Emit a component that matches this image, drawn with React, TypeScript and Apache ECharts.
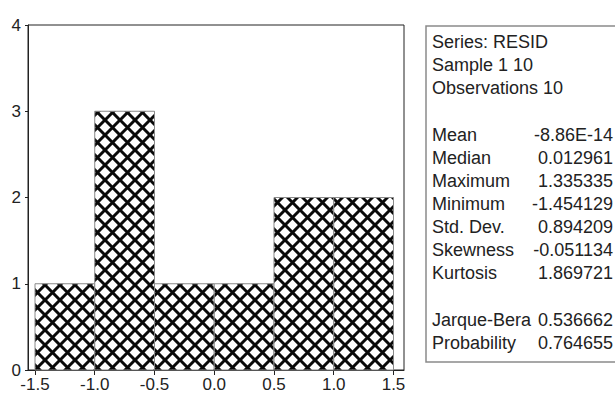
import React, { useEffect, useRef } from "react";
import * as echarts from "echarts";

const binEdges = [-1.5, -1.0, -0.5, 0.0, 0.5, 1.0, 1.5];
const counts = [1, 3, 1, 1, 2, 2];
const xTickValues = [-1.5, -1.0, -0.5, 0.0, 0.5, 1.0, 1.5];
const headerLines = ["Series: RESID", "Sample 1 10", "Observations 10"];
const statNames = ["Mean", "Median", "Maximum", "Minimum", "Std. Dev.", "Skewness", "Kurtosis"];
const statValues = ["-8.86E-14", "0.012961", "1.335335", "-1.454129", "0.894209", "-0.051134", "1.869721"];
const testNames = ["Jarque-Bera", "Probability"];
const testValues = ["0.536662", "0.764655"];

const FONT = "Liberation Sans, Arial, sans-serif";

function makeHatch(): HTMLCanvasElement {
  const s = 15;
  const c = document.createElement("canvas");
  c.width = s;
  c.height = s;
  const ctx = c.getContext("2d")!;
  ctx.fillStyle = "#ffffff";
  ctx.fillRect(0, 0, s, s);
  ctx.strokeStyle = "#0a0a0a";
  ctx.lineWidth = 3;
  ctx.beginPath();
  for (const o of [-s, 0, s]) {
    ctx.moveTo(o - 3, -3);
    ctx.lineTo(o + s + 3, s + 3);
    ctx.moveTo(o - 3, s + 3);
    ctx.lineTo(o + s + 3, -3);
  }
  ctx.stroke();
  return c;
}

export default function App() {
  const ref = useRef<HTMLDivElement>(null);
  useEffect(() => {
    if (!ref.current) return;
    const chart = echarts.init(ref.current, undefined, { renderer: "svg" });
    const pattern = { image: makeHatch(), repeat: "repeat" };
    const data = counts.map((c, i) => [binEdges[i], binEdges[i + 1], c]);

    const graphics: any[] = [
      {
        type: "rect",
        shape: { x: 426, y: 26, width: 220, height: 336 },
        style: { fill: "#fff", stroke: "#8a8a8a", lineWidth: 1.5 },
        z: 1,
      },
    ];
    const leftX = 432;
    const rightX = 613;
    const txt = (t: string, x: number, y: number, align: string) => ({
      type: "text",
      x,
      y,
      z: 2,
      style: {
        text: t,
        font: `18px ${FONT}`,
        fill: "#222",
        textAlign: align,
        textVerticalAlign: "middle",
      },
    });
    headerLines.forEach((t, i) => graphics.push(txt(t, leftX, 42 + i * 23, "left")));
    statNames.forEach((t, i) => {
      graphics.push(txt(t, leftX, 135 + i * 23, "left"));
      graphics.push(txt(statValues[i], rightX, 135 + i * 23, "right"));
    });
    testNames.forEach((t, i) => {
      graphics.push(txt(t, leftX, 320 + i * 23, "left"));
      graphics.push(txt(testValues[i], rightX, 320 + i * 23, "right"));
    });

    chart.setOption({
      animation: false,
      backgroundColor: "#fff",
      grid: {
        left: 28,
        top: 25,
        width: 376,
        height: 345,
        show: true,
        borderColor: "#222",
        borderWidth: 1,
        backgroundColor: "transparent",
      },
      xAxis: {
        type: "value",
        min: -1.5586,
        max: 1.588,
        axisLine: { show: true, onZero: false, lineStyle: { color: "#222", width: 1 } },
        axisTick: {
          show: true,
          length: 5,
          customValues: xTickValues,
          lineStyle: { color: "#222" },
        },
        axisLabel: {
          customValues: xTickValues,
          formatter: (v: number) => v.toFixed(1),
          fontSize: 17,
          fontFamily: FONT,
          color: "#222",
          margin: 6,
        },
        splitLine: { show: false },
      },
      yAxis: {
        type: "value",
        min: 0,
        max: 4,
        interval: 1,
        axisLine: { show: true, onZero: false, lineStyle: { color: "#222", width: 1 } },
        axisTick: { show: true, length: 3, lineStyle: { color: "#222" } },
        axisLabel: {
          fontSize: 17,
          fontFamily: FONT,
          color: "#222",
          margin: 7,
        },
        splitLine: { show: false },
      },
      series: [
        {
          type: "custom",
          data,
          encode: { x: [0, 1], y: 2 },
          renderItem: (_params: any, api: any) => {
            const x0 = api.value(0);
            const x1 = api.value(1);
            const c = api.value(2);
            const p0 = api.coord([x0, c]);
            const p1 = api.coord([x1, 0]);
            return {
              type: "rect",
              shape: { x: p0[0], y: p0[1], width: p1[0] - p0[0], height: p1[1] - p0[1] },
              style: { fill: pattern, stroke: "#8a8a8a", lineWidth: 1 },
            };
          },
        },
      ],
      graphic: graphics,
    });
    return () => chart.dispose();
  }, []);
  return (
    <div
      ref={ref}
      style={{ position: "fixed", left: 0, top: 0, width: 615, height: 395 }}
    />
  );
}
